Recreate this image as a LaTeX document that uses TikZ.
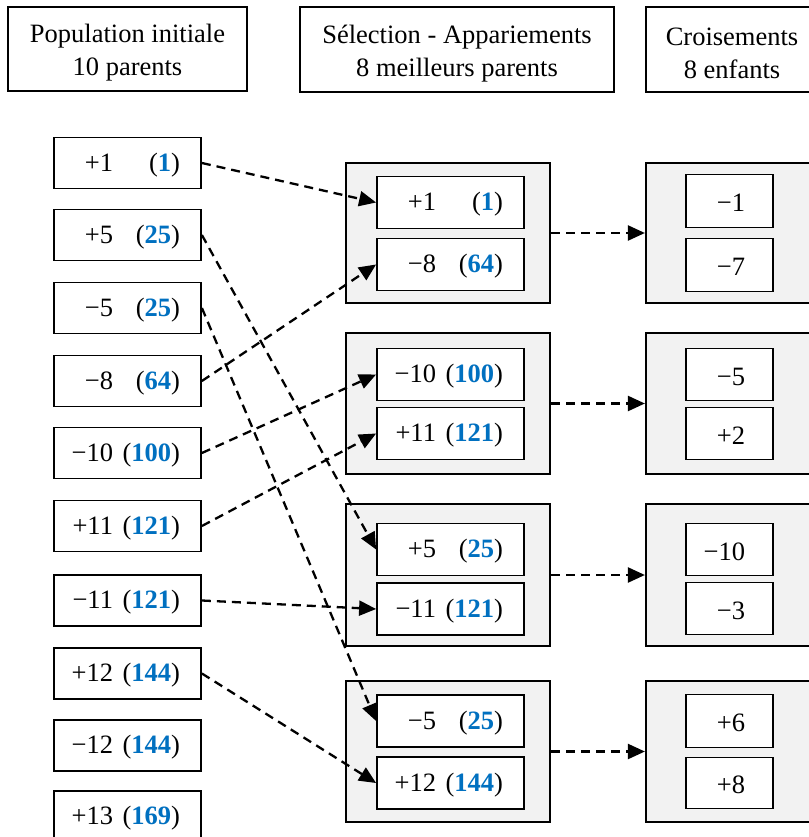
\documentclass[tikz,border=0pt]{standalone}
\usepackage{fontspec}
\setmainfont{Liberation Serif}
\usetikzlibrary{arrows.meta}
\definecolor{valblue}{HTML}{0070C0}
\definecolor{groupgray}{HTML}{F2F2F2}
% parent: value right-aligned in a 59pt field, (fitness) right-aligned after it
\newcommand{\pv}[2]{\raisebox{-2pt}[\height][\depth]{\hbox to 147pt{\hbox to 59pt{\hfil #1}\hbox to 67pt{\hfil(\textcolor{valblue}{\textbf{#2}})}\hfil}}}
% child: value right-aligned in a 59pt field
\newcommand{\cv}[1]{\raisebox{-2pt}[\height][\depth]{\hbox to 87pt{\hbox to 59pt{\hfil #1}\hfil}}}
\begin{document}
\begin{tikzpicture}[x=1pt,y=-1pt,
  font=\fontsize{26.5}{33}\selectfont,
  box/.style={draw, line width=1.8pt, fill=white, inner sep=0pt, minimum height=51pt},
  pbox/.style={box, minimum width=147pt},
  cbox/.style={box, minimum width=87pt},
  groupbox/.style={draw, line width=2.2pt, fill=groupgray, inner sep=0pt},
  head/.style={draw, line width=1.8pt, inner sep=0pt},
  headtext/.style={inner sep=0pt, align=center, yshift=-4pt},
  link/.style={line width=2.3pt, dash pattern=on 9pt off 6pt,
    -{Triangle[length=17pt,width=15pt]}}]
\useasboundingbox (0,0) rectangle (808,837);

% column headers
\node[head, minimum width=239pt, minimum height=84pt] (h1) at (127.5,49) {};
\node[headtext] (h1t) at (h1.center) {Population initiale\\10 parents};
\node[head, minimum width=314pt, minimum height=85pt] (h2) at (457,49.5) {};
\node[headtext] (h2t) at (h2.center) {Sélection - Appariements\\8 meilleurs parents};
\node[head, minimum width=174pt, minimum height=85pt] (h3) at (733,49.5) {};
\node[headtext] (h3t) at (732,49.5) {Croisements\\8 enfants};

% initial population
\node[pbox] (p1)  at (127.5,163) {\pv{+1}{1}};
\node[pbox] (p2)  at (127.5,235) {\pv{+5}{25}};
\node[pbox] (p3)  at (127.5,308) {\pv{−5}{25}};
\node[pbox] (p4)  at (127.5,381) {\pv{−8}{64}};
\node[pbox] (p5)  at (127.5,453) {\pv{−10}{100}};
\node[pbox] (p6)  at (127.5,526) {\pv{+11}{121}};
\node[pbox] (p7)  at (127.5,600.5) {\pv{−11}{121}};
\node[pbox] (p8)  at (127.5,673.5) {\pv{+12}{144}};
\node[pbox] (p9)  at (127.5,745.5) {\pv{−12}{144}};
\node[pbox] (p10) at (127.5,816.5) {\pv{+13}{169}};

% selected pairs
\node[groupbox, minimum width=204pt, minimum height=140pt] (m1) at (448,233) {};
\node[groupbox, minimum width=204pt, minimum height=141pt] (m2) at (448,403.5) {};
\node[groupbox, minimum width=204pt, minimum height=142pt] (m3) at (448,575) {};
\node[groupbox, minimum width=204pt, minimum height=141pt] (m4) at (448,751.5) {};

\node[pbox, minimum height=52pt] (s1) at (450.5,202.5) {\pv{+1}{1}};
\node[pbox, minimum height=52pt] (s2) at (450.5,264.5) {\pv{−8}{64}};
\node[pbox, minimum height=52pt] (s3) at (450.5,374.5) {\pv{−10}{100}};
\node[pbox, minimum height=52pt] (s4) at (450.5,433.5) {\pv{+11}{121}};
\node[pbox, minimum height=52pt] (s5) at (450.5,549.5) {\pv{+5}{25}};
\node[pbox, minimum height=52pt] (s6) at (450.5,609)   {\pv{−11}{121}};
\node[pbox, minimum height=52pt] (s7) at (450.5,721)   {\pv{−5}{25}};
\node[pbox, minimum height=52pt] (s8) at (450.5,783)   {\pv{+12}{144}};

% children
\node[groupbox, minimum width=174pt, minimum height=140pt] (c1) at (733,233) {};
\node[groupbox, minimum width=174pt, minimum height=141pt] (c2) at (733,403.5) {};
\node[groupbox, minimum width=174pt, minimum height=142pt] (c3) at (733,575) {};
\node[groupbox, minimum width=174pt, minimum height=141pt] (c4) at (733,751.5) {};

\node[cbox, minimum height=53pt] (e1) at (729.5,201)   {\cv{−1}};
\node[cbox, minimum height=53pt] (e2) at (729.5,265)   {\cv{−7}};
\node[cbox, minimum height=52pt] (e3) at (729.5,374.5) {\cv{−5}};
\node[cbox, minimum height=52pt] (e4) at (729.5,433.5) {\cv{+2}};
\node[cbox, minimum height=52pt] (e5) at (729.5,549.5) {\cv{−10}};
\node[cbox, minimum height=52pt] (e6) at (729.5,608.5) {\cv{−3}};
\node[cbox, minimum height=53pt] (e7) at (729.5,721)   {\cv{+6}};
\node[cbox, minimum height=51pt] (e8) at (729.5,783)   {\cv{+8}};

% selection links
\draw[link] (p1.east) -- (s1.west);
\draw[link] (p2.east) -- (s5.west);
\draw[link] (p3.east) -- (s7.west);
\draw[link] (p4.east) -- (s2.west);
\draw[link] (p5.east) -- (s3.west);
\draw[link] (p6.east) -- (s4.west);
\draw[link] (p7.east) -- (s6.west);
\draw[link] (p8.east) -- (s8.west);

% crossover links
\draw[link] (m1.east) -- (c1.west);
\draw[link] (m2.east) -- (c2.west);
\draw[link] (m3.east) -- (c3.west);
\draw[link] (m4.east) -- (c4.west);
\end{tikzpicture}
\end{document}
